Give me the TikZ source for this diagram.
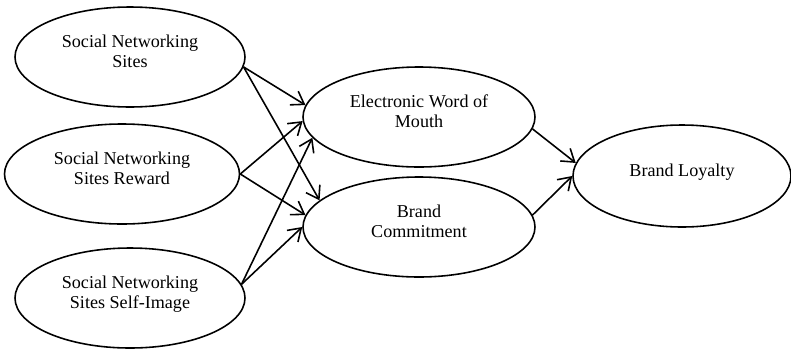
\documentclass[tikz,border=0pt]{standalone}
\usepackage{fontspec}
\setmainfont{Liberation Serif}
\usetikzlibrary{positioning}
\usetikzlibrary{arrows.meta}
\usetikzlibrary{shapes.geometric}

\begin{document}
\begin{tikzpicture}[
	construct/.style={draw, ellipse, line width=0.9pt, inner sep=0pt, minimum width=4.6cm, minimum height=2cm, text depth=0.22cm, align=center, font=\fontsize{10.3}{11.5}\selectfont},
	edge/.style={-{Straight Barb[length=2.4mm, width=3.2mm]}, line width=0.9pt}
	]
	\useasboundingbox (0,0) rectangle (15.82,-6.98);
	% Nodes
	\node[construct] (sns) at (2.6,-1.14) {Social Networking\\Sites};
	\node[construct, minimum width=4.7cm] (reward) at (2.44,-3.48) {Social Networking\\Sites Reward};
	\node[construct] (self) at (2.6,-5.96) {Social Networking\\Sites Self-Image};
	\node[construct, minimum width=4.64cm] (ewom) at (8.38,-2.34) {Electronic Word of\\Mouth};
	\node[construct, minimum width=4.64cm] (bc) at (8.38,-4.54) {Brand\\Commitment};
	\node[construct, minimum width=4.36cm, minimum height=2.04cm] (bl) at (13.64,-3.52) {Brand Loyalty};
	
	% Edges
	\draw[edge] (sns.355) -- (ewom.174);
	\draw[edge] (sns.355) -- (bc.165);
	\draw[edge] (reward.east) -- (ewom.182);
	\draw[edge] (reward.east) -- (bc.174);
	\draw[edge] (self.7) -- (ewom.191);
	\draw[edge] (self.7) -- (bc.180);
	\draw[edge] (ewom.354) -- (bl.173);
	\draw[edge] (bc.6) -- (bl.180);
\end{tikzpicture}
\end{document}
